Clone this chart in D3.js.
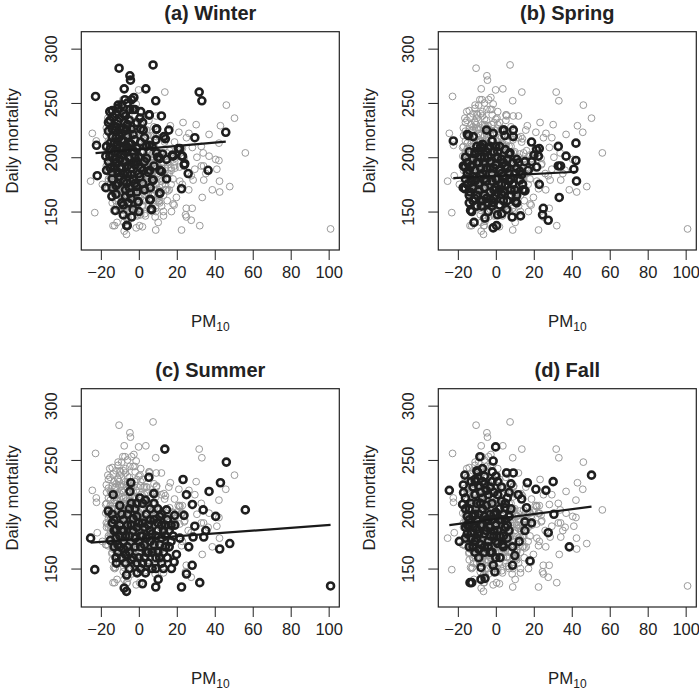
<!DOCTYPE html>
<meta charset="utf-8">
<title>PM10 vs daily mortality by season</title>
<style>
  body { margin: 0; background: #fff; }
  text { font-family: "Liberation Sans", Arial, Helvetica, sans-serif; fill: #222; }
</style>
<body>
<svg width="699" height="690"></svg>
<script src="https://d3js.org/d3.v7.min.js"></script>
<script>
// [PM10, daily mortality] per season
const winter = [
  [-22.8,256],[-10.4,282],[-4.7,275],[-4.4,271],[7.5,285],[-7.7,263],[3.7,263],[-2.6,255],[8.9,252],
  [31.8,260],[33.2,252],[-22.3,211],[-21.9,183],[-17.4,172],[-14.2,164],[-12.3,151],[-6.1,137],
  [-0.4,159],[6.1,161],[6.7,152],[11,167],[7.2,179],[11.9,187],[14.6,180],[9.3,226],[11.9,238],
  [5.4,239],[15.8,225],[13.2,219],[14,217],[14.6,198],[12.5,203],[17.7,202],[21.6,208],[23,201],
  [24.2,194],[26,185],[29.5,218],[22.5,171],[36.5,188],[45.8,223],[-17.4,201],[-15.3,242],
  [-13.5,237],[-15.2,234],[-10.9,248],[-7.3,253],[-3.8,253],[-4.7,244],[-2.1,244],[0.6,236],
  [5.5,239],[9.4,226],[-17,210],[-15.2,201],[-17,188],[-6.4,137],[-8.2,156],[-5.6,158],[-0.3,159],
  [-4.7,167],[-1.2,173],[-6.4,176],[0.6,182],[2.3,188],[5.8,188],[7.6,179],[11.1,188],[11.1,167],
  [18.1,201],[20.8,208],[22.5,201],[23.9,193],[6.7,152],[5.8,161],[11.1,199],[4.1,199],[-6.4,225],
  [-10,219],[-12.6,225],[-6.4,210],[-2.1,216],[2.3,225],[5.5,211],[9.4,204],[-11.7,195],[-8.2,185],
  [-10.9,176],[-2.9,195],[-3.8,145],[-8.2,147],[-12,228],[-9,222],[-11,212],[-8,215],[-13,205],
  [-10,198],[-7,205],[-5,199],[-9,190],[-12,195],[-6,230],[-3,221],[-1,208],[1,214],[-4,212],
  [-14,219],[-15,190],[-8,240],[-11,245],[-2,193],[0,200],[2,205],[-6,185],[-3,180],[-10,182],
  [-14,180],[-7,170],[-12,174],
  [-16,232],[-14,226],[-13,213],[-15,208],[-16,196],[-14,186],[-12,240],[-11,233],[-10,226],
  [-9,216],[-8,208],[-9,202],[-7,196],[-6,192],[-10,190],[-11,204],[-13,198],[-12,218],[-7,238],
  [-5,234],[-4,226],[-6,220],[-5,213],[-3,206],[-2,200],[-4,190],[-1,196],[1,190],[0,185],[-2,176],
  [-5,172],[-8,178],[-11,186],[-13,191],[-15,213],[-16,224],[-9,248],[-6,250],[-3,244],[-1,232],
  [1,226],[3,218],[4,210],[3,196],[5,186],[2,176],[-1,168],[-4,162],[-7,164],[-9,158],[-12,166],
  [-14,172],[-3,152],[0,150],[3,170],[6,172],[8,192],[7,210],[9,216],[10,200],[-6,207],[-10,236],
  [-12,210],[-8,227],[-14,243],[-4,184],[1,242],[2,232]
];
const spring = [
  [-22.4,215],[-15,221],[-11.9,219],[-4.9,225],[-1.4,222],[4.3,225],[9.2,225],[9.2,219],[4.8,220],
  [18.8,214],[22.9,208],[20.1,202],[22.4,201],[32.9,210],[37,201],[42.2,213],[42.2,197],[32.9,192],
  [34.1,192],[41.1,189],[42.5,178],[21.5,191],[22.9,175],[33.4,163],[25,153],[24.6,147],[27.6,142],
  [13,146],[8.6,145],[0.9,147],[-1.4,135],[0.4,137],[-5.7,144],[-11.5,140],[-13.3,151],[-16.2,171],
  [-17.1,192],[-11,203],[14.1,175],[15.3,169],[10.4,159],[13.6,184],[-14.5,220],[3.9,225],
  [21.5,207],[12.7,179],[14.4,170],[11,158],[3.1,148],[5.7,152],[-12.7,150],[-16.3,191],[-17.2,172],
  [-13.6,168],[-11,162],[-7.5,155],[-1.4,158],[12.7,187],[11,198],[7.4,204],[18.9,196],[17.1,188],
  [15.3,196],[-14,205],[-10,210],[-7,212],[-4,208],[-1,205],[2,210],[5,207],[-12,198],[-9,195],
  [-6,200],[-3,196],[0,193],[3,198],[6,190],[-15,185],[-11,188],[-8,183],[-5,190],[-2,185],[1,180],
  [4,183],[7,178],[-13,177],[-9,175],[-6,172],[-3,168],[0,172],[3,166],[-10,165],[-7,160],[-4,158],
  [-1,162],[2,156],[-12,182],[-5,178],[9,195],[8,170],[-8,200],[-2,215],[-14,165],
  [-16,200],[-15,195],[-14,188],[-13,180],[-12,172],[-11,178],[-10,195],[-9,205],[-8,190],[-7,185],
  [-6,195],[-5,205],[-4,200],[-3,190],[-2,178],[-1,170],[0,180],[1,200],[2,188],[3,175],[4,168],
  [5,175],[6,198],[7,185],[8,180],[9,175],[10,185],[11,190],[-9,170],[-8,160],[-6,165],[-4,150],
  [-2,155],[0,165],[2,170],[4,160],[6,160],[8,165],[10,170],[-14,158],[-12,160],[-16,180],[-11,205],
  [-7,208],[-3,210],[1,205],[4,195],[7,203],[12,195],[-10,155],[-5,162],[-1,190],[3,185],[-13,192],
  [-6,180],[5,192],[11,165],[-15,175],[-8,210],[0,210]
];
const summer = [
  [-25.4,178],[-23.2,149],[-16.1,203],[-13.5,218],[-4.2,229],[5.3,234],[13.7,260],[23.3,232],
  [25.1,218],[28.2,209],[33.9,204],[37,221],[43,229],[46.1,248],[56.1,204],[40.5,198],[35.3,185],
  [34.2,179],[28.6,179],[29.5,189],[47.9,173],[42.6,168],[26.3,170],[28.1,153],[25.1,145],[22.5,133],
  [32.1,137],[8.9,133],[10.2,140],[1.9,136],[3.5,146],[-0.9,146],[-6.5,129],[-7.7,132],[-6.5,144],
  [-11.8,155],[17.2,150],[18.6,156],[19.8,163],[21.6,178],[18.9,199],[23.8,199],[7.9,219],[14.6,204],
  [-4.7,221],[0.5,215],[3.5,213],[101,134],[-14,192],[-12,186],[-10,180],[-13,170],[-11,165],
  [-8,175],[-6,190],[-9,200],[-5,205],[-3,196],[-1,188],[1,180],[3,172],[5,165],[-2,170],[0,160],
  [2,155],[-4,158],[6,185],[8,195],[10,205],[12,190],[14,180],[11,172],[9,160],[13,165],[15,195],
  [16,185],[7,150],[-7,163],[4,200],[-1,210],[17,175],[-15,176],[-10,208],[6,175],[12,155],[-5,150],
  [19,190],[2,192],[-8,185],[10,185],
  [-14,200],[-13,185],[-12,178],[-11,172],[-10,190],[-9,185],[-8,195],[-7,180],[-6,170],[-5,180],
  [-4,190],[-3,185],[-2,178],[-1,198],[0,192],[1,170],[2,180],[3,188],[4,178],[5,190],[6,195],
  [7,182],[8,172],[9,180],[10,192],[11,198],[12,178],[13,185],[14,170],[15,160],[16,170],[17,190],
  [18,180],[-9,160],[-7,155],[-5,165],[-3,160],[-1,155],[1,150],[3,160],[5,155],[7,165],[9,150],
  [11,160],[13,150],[-12,160],[-10,170],[-6,200],[-2,205],[2,210],[6,205],[8,210],[12,200],[-4,210],
  [0,175],[4,165],[14,190],[-8,168],[10,165],[-13,195]
];
const fall = [
  [-24.5,222],[-19.2,175],[-13.6,137],[-17.5,209],[-16.3,236],[-17.1,227],[-8.4,253],[-9.6,239],
  [-10.5,230],[-0.1,262],[-1.4,249],[-1.9,239],[5.7,238],[9.2,238],[16.6,229],[21.1,223],[26.4,222],
  [30.2,230],[50.4,236],[30.6,200],[27.6,183],[38.7,170],[18,157],[16.2,206],[15.3,193],[18.8,192],
  [15.3,185],[12.3,175],[8.8,170],[10,162],[8.8,153],[-0.5,147],[-1.4,153],[-5.7,141],[-7.8,140],
  [-7.8,151],[-12.7,137],[4.8,206],[2.2,160],[3.6,172],[11.8,218],[13.6,214],[-16,215],[-14,205],
  [-12,198],[-15,190],[-13,183],[-11,175],[-9,168],[-16,178],[-10,210],[-8,220],[-6,228],[-4,218],
  [-2,210],[0,202],[2,195],[-7,205],[-5,195],[-3,188],[-1,180],[1,173],[-6,182],[-8,190],[-10,186],
  [-4,175],[-12,225],[-2,230],[3,225],[6,215],[5,188],[-9,160],[-3,165],[0,190],[7,198],[-14,195],
  [-6,170],[4,180],[-11,232],[-7,242],[1,218],[8,228],
  [-17,220],[-16,205],[-15,198],[-14,190],[-13,178],[-12,170],[-11,165],[-10,195],[-9,200],[-8,210],
  [-7,215],[-6,198],[-5,185],[-4,195],[-3,200],[-2,195],[-1,185],[0,175],[1,185],[2,205],[3,195],
  [4,200],[5,210],[6,190],[7,185],[-15,182],[-13,210],[-11,218],[-9,226],[-7,230],[-5,222],[-3,225],
  [-1,220],[1,230],[3,212],[-12,188],[-10,178],[-8,172],[-6,165],[-4,170],[-2,165],[0,160],[2,180],
  [4,170],[6,178],[8,205],[-14,170],[-16,188],[-9,182],[-5,208],[-1,200],[-7,190],[-11,200],[-3,180],
  [5,195],[-13,230],[-6,235],[0,235],[7,220],[-10,240]
];

const seasonData = [winter, spring, summer, fall];
const titles = ["(a) Winter", "(b) Spring", "(c) Summer", "(d) Fall"];
// fitted line: intercept and slope per season
const intercepts = [207.3, 182.8, 177.2, 195.6];
const slopes = [0.154, 0.09, 0.128, 0.226];
const xTicks = [-20, 0, 20, 40, 60, 80, 100];
const yTicks = [150, 200, 250, 300];

const allPts = seasonData.flat();

const svg = d3.select("svg");
const boxW = 258, boxH = 218.3;
const x = d3.scaleLinear().domain([-30.3, 105.6]).range([0, boxW]);
const y = d3.scaleLinear().domain([114.6, 315.6]).range([boxH, 0]);

seasonData.forEach((pts, i) => {
  const ox = 81.3 + (i % 2) * 357, oy = 31.7 + Math.floor(i / 2) * 357;
  const g = svg.append("g").attr("transform", `translate(${ox},${oy})`);

  g.append("g").selectAll("circle")
    .data(allPts).join("circle")
    .attr("cx", d => x(d[0])).attr("cy", d => y(d[1])).attr("r", 3.4)
    .attr("fill", "none").attr("stroke", "#9a9a9a").attr("stroke-width", 1);

  g.append("g").selectAll("circle")
    .data(pts).join("circle")
    .attr("cx", d => x(d[0])).attr("cy", d => y(d[1])).attr("r", 3.5)
    .attr("fill", "none").attr("stroke", "#1f1f1f").attr("stroke-width", 2.6);

  const ext = d3.extent(pts, d => d[0]);
  g.append("path")
    .datum(ext.map(v => [v, intercepts[i] + slopes[i] * v]))
    .attr("d", d3.line().x(d => x(d[0])).y(d => y(d[1])))
    .attr("stroke", "#1a1a1a").attr("stroke-width", 2.2).attr("fill", "none");

  g.append("rect").attr("width", boxW).attr("height", boxH)
    .attr("fill", "none").attr("stroke", "#222").attr("stroke-width", 1.2);

  const xa = g.append("g").attr("transform", `translate(0,${boxH})`)
    .call(d3.axisBottom(x).tickValues(xTicks).tickSize(10).tickPadding(6)
      .tickFormat(d => d < 0 ? "\u2212" + Math.abs(d) : d));
  xa.select(".domain").remove();
  xa.selectAll("line").attr("stroke", "#222");
  xa.selectAll("text").attr("font-size", 16.5).attr("fill", "#222")
    .attr("font-family", "'Liberation Sans', Arial, sans-serif");

  const ya = g.append("g").call(d3.axisLeft(y).tickValues(yTicks).tickSize(10).tickFormat(d3.format("d")));
  ya.select(".domain").remove();
  ya.selectAll("line").attr("stroke", "#222");
  ya.selectAll("text").remove();
  ya.selectAll(".tick").append("text")
    .attr("transform", "translate(-24.6,0) rotate(-90)")
    .attr("text-anchor", "middle")
    .attr("font-size", 16.5)
    .text(d => d);

  g.append("text").attr("x", boxW / 2).attr("y", -11.7)
    .attr("text-anchor", "middle").attr("font-size", 20).attr("font-weight", "bold")
    .text(titles[i]);

  g.append("text").attr("transform", `translate(${18 - 81.3},${boxH / 2}) rotate(-90)`)
    .attr("text-anchor", "middle").attr("font-size", 16.8)
    .text("Daily mortality");

  const xl = g.append("text").attr("x", boxW / 2).attr("y", 327.3 - 31.7)
    .attr("text-anchor", "middle").attr("font-size", 16.8);
  xl.append("tspan").text("PM");
  xl.append("tspan").attr("font-size", 12).attr("dy", 4).text("10");
});
</script>
</body>
